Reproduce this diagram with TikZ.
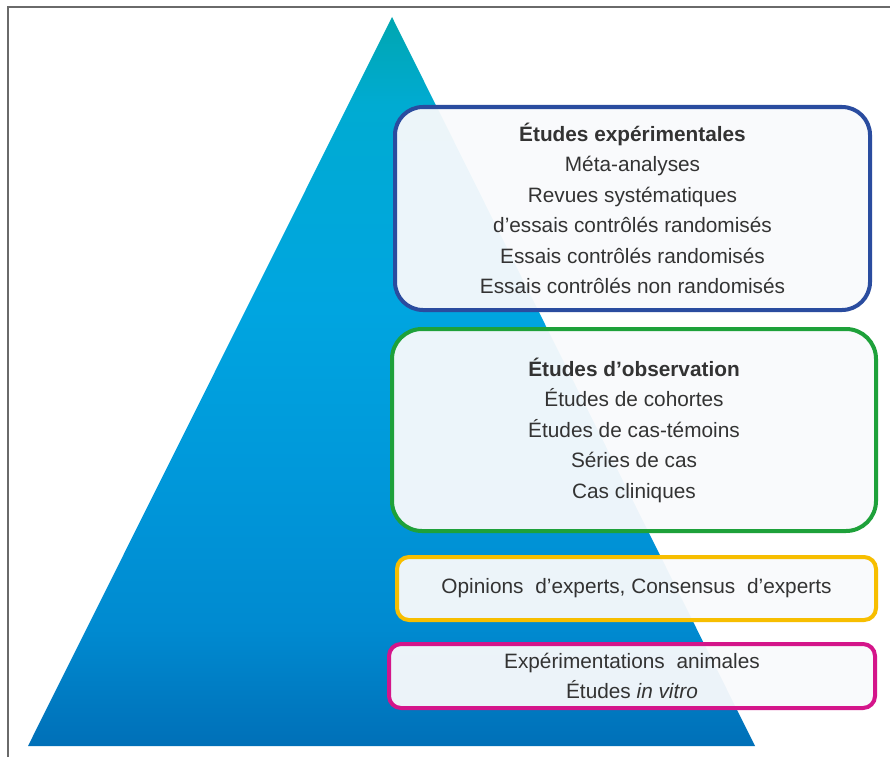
\documentclass[tikz,border=0pt]{standalone}
\usepackage{fontspec}
\setmainfont{Liberation Sans}
\definecolor{cB}{HTML}{0070B8}
\definecolor{cB2}{HTML}{008AD0}
\definecolor{cM2}{HTML}{0096D9}
\definecolor{cM}{HTML}{00A5E0}
\definecolor{cT2}{HTML}{00ABD2}
\definecolor{cT}{HTML}{00A6B0}
\definecolor{txt}{HTML}{333333}
\definecolor{boxfill}{HTML}{F9FAFC}
\definecolor{bluebd}{HTML}{2A4C9F}
\definecolor{greenbd}{HTML}{1EA13A}
\definecolor{yellowbd}{HTML}{F7BE00}
\definecolor{magentabd}{HTML}{D4158A}
\definecolor{framec}{HTML}{6A6A6A}
\pgfdeclareverticalshading{pyr}{100bp}{color(0bp)=(cB); color(25bp)=(cB); color(33bp)=(cB2); color(42bp)=(cM2); color(55bp)=(cM); color(69bp)=(cT2); color(75bp)=(cT); color(100bp)=(cT)}
\tikzset{
  box/.style={draw, rectangle, line width=4pt, fill=boxfill, fill opacity=0.95, text opacity=1,
    inner sep=0pt, align=center, text=txt,
    font=\fontsize{20.8}{30.5}\selectfont},
}
\begin{document}
\begin{tikzpicture}[x=1pt,y=-1pt]
\useasboundingbox (0,0) rectangle (890,757);
\fill[white] (0,0) rectangle (890,757);
\draw[framec, line width=1.5pt] (8,757) -- (8,7) -- (890,7);
\shade[shading=pyr] (28,746) -- (392,17) -- (755,746) -- cycle;
\node[box, draw=bluebd, rounded corners=28pt, minimum width=475pt, minimum height=203pt] (exp) at (632.5,208.5)
 {\textbf{Études expérimentales}\\Méta-analyses\\Revues systématiques\\d’essais contrôlés randomisés\\Essais contrôlés randomisés\\Essais contrôlés non randomisés};
\node[box, draw=greenbd, rounded corners=30pt, minimum width=484pt, minimum height=202pt] (obs) at (634,430)
 {\textbf{Études d’observation}\\Études de cohortes\\Études de cas-témoins\\Séries de cas\\Cas cliniques};
\node[box, draw=yellowbd, rounded corners=12pt, minimum width=479pt, minimum height=63pt] (opi) at (636.5,588.5)
 {Opinions\hspace{6pt} d’experts, Consensus\hspace{6pt} d’experts};
\node[box, draw=magentabd, rounded corners=12pt, minimum width=486pt, minimum height=64pt] (ani) at (632,676)
 {Expérimentations\hspace{6pt} animales\\Études \textit{in vitro}};
\end{tikzpicture}
\end{document}
